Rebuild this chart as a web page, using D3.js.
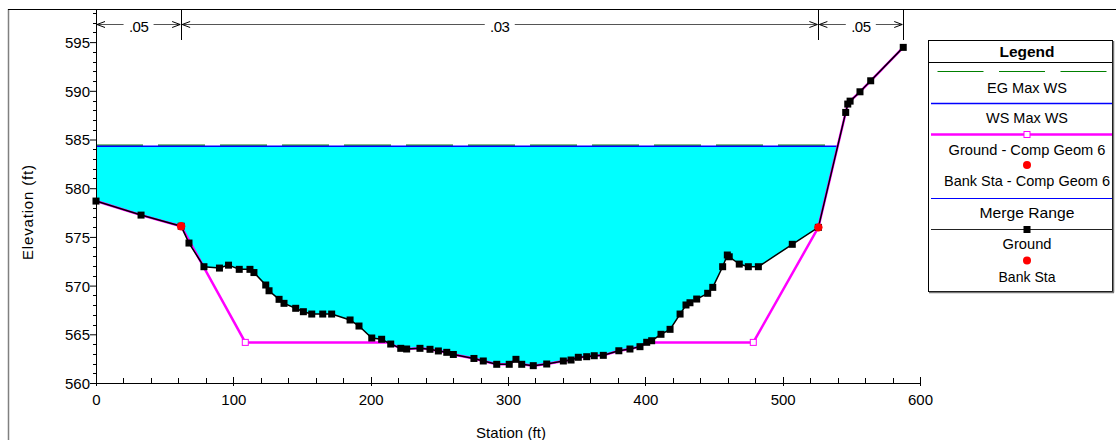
<!DOCTYPE html>
<html><head><meta charset="utf-8">
<script src="https://cdn.jsdelivr.net/npm/d3@7/dist/d3.min.js"></script>
<style>body{margin:0;background:#fff;}svg{display:block;font-family:"Liberation Sans",Arial,sans-serif;}</style>
</head><body><svg id="c" width="1116" height="440"></svg>
<script>
const groundSta = [0,32.8,62,67.7,78.6,89.9,96.5,104.3,112.1,115.0,123.6,126.0,133.3,136.9,145.4,151.0,157.1,165.1,171.6,185.0,191.5,200.8,208.0,214.6,221.9,226.2,235.9,243.2,249.3,255.4,260.2,275.2,282.0,291.8,300.9,305.8,310.0,318.4,328.2,340.3,345.9,351.2,357.3,362.8,369.4,380.7,388.8,396.1,401.0,404.6,411.4,418.0,425.3,429.6,432.5,437.4,445.4,449.1,456.3,459.7,461.1,468.4,475.0,482.3,507.0,526.0,545.9,547.4,549.1,556.3,564.1,587.8];
const groundElev = [578.68,577.24,576.1,574.37,571.94,571.8,572.1,571.67,571.67,571.34,570.06,569.47,568.59,568.18,567.67,567.32,567.08,567.08,567.08,566.47,565.85,564.62,564.49,564.0,563.56,563.49,563.56,563.46,563.29,563.15,562.93,562.52,562.26,561.92,561.92,562.43,561.92,561.78,561.95,562.26,562.36,562.64,562.70,562.80,562.84,563.31,563.49,563.73,564.18,564.34,565.0,565.51,567.08,568.01,568.24,568.62,569.21,569.82,571.94,573.14,572.96,572.21,571.94,571.94,574.24,575.98,587.78,588.64,588.94,589.90,591.03,594.46];
const compSta = [0,32.8,62,108.7,213.5,214.6,221.9,226.2,235.9,243.2,249.3,255.4,260.2,275.2,282.0,291.8,300.9,305.8,310.0,318.4,328.2,340.3,345.9,351.2,357.3,362.8,369.4,380.7,388.8,396.1,401.0,478.6,526.0,545.9,547.4,549.1,556.3,564.1,587.8];
const compElev = [578.68,577.24,576.1,564.17,564.17,564.0,563.56,563.49,563.56,563.46,563.29,563.15,562.93,562.52,562.26,561.92,561.92,562.43,561.92,561.78,561.95,562.26,562.36,562.64,562.70,562.80,562.84,563.31,563.49,563.73,564.17,564.17,575.98,587.78,588.64,588.94,589.90,591.03,594.46];
const compMarkSta = [108.7,478.6];
const compMarkElev = [564.17,564.17];
const bankSta = [62,526.0];
const bankElev = [576.1,575.98];
const wsElev = 584.32;
const egElev = 584.42;
const nBounds = [0,62,526,587.8];
const nValues = [".05",".03",".05"];
const xTicks = [0,100,200,300,400,500,600];
const yTicks = [560,565,570,575,580,585,590,595];
const legendItems = ["EG Max WS","WS Max WS","Ground - Comp Geom 6","Bank Sta - Comp Geom 6","Merge Range","Ground","Bank Sta"];

const FS = 15;
const svg = d3.select("#c");
const x = d3.scaleLinear().domain([0,600]).range([96,920]);
const y = d3.scaleLinear().domain([560,598.4]).range([383,9]);

// frame
svg.append("line").attr("x1",8.5).attr("x2",8.5).attr("y1",9).attr("y2",440).attr("stroke","#808080").attr("stroke-width",1.5);
svg.append("line").attr("x1",8).attr("x2",1116).attr("y1",9.5).attr("y2",9.5).attr("stroke","#000");

// water fill: between WS and ground
const gpts = groundSta.map((s,i)=>[s,groundElev[i]]);
let xr = 0;
for(let i=1;i<gpts.length;i++){
  const [s0,e0]=gpts[i-1],[s1,e1]=gpts[i];
  if(e0<wsElev && e1>=wsElev){ xr = s0+(wsElev-e0)/(e1-e0)*(s1-s0); break; }
}
const fillPts = [[0,wsElev]].concat(gpts.filter(p=>p[0]<xr)).concat([[xr,wsElev]]);
svg.append("path").attr("d",d3.line().x(d=>x(d[0])).y(d=>y(d[1]))(fillPts)+"Z").attr("fill","#00ffff");

// EG & WS lines
svg.append("line").attr("x1",x(0)).attr("x2",x(xr)).attr("y1",y(egElev)).attr("y2",y(egElev)).attr("stroke","#008000").attr("stroke-width",1.2).attr("stroke-dasharray","47,15");
svg.append("line").attr("x1",x(0)).attr("x2",x(xr)).attr("y1",y(wsElev)).attr("y2",y(wsElev)).attr("stroke","#0000ff").attr("stroke-width",1.5);

// comp geom magenta
const line = d3.line().x(d=>x(d[0])).y(d=>y(d[1]));
svg.append("path").attr("d",line(compSta.map((s,i)=>[s,compElev[i]]))).attr("fill","none").attr("stroke","#ff00ff").attr("stroke-width",2.5);
svg.selectAll(".cm").data(compMarkSta).join("rect").attr("x",d=>x(d)-3).attr("y",(d,i)=>y(compMarkElev[i])-3).attr("width",6).attr("height",6).attr("fill","#fff").attr("stroke","#ff00ff").attr("stroke-width",1);

// ground
svg.append("path").attr("d",line(gpts)).attr("fill","none").attr("stroke","#000").attr("stroke-width",1.5);
svg.selectAll(".gm").data(gpts).join("rect").attr("x",d=>x(d[0])-3.5).attr("y",d=>y(d[1])-3.5).attr("width",7).attr("height",7).attr("fill","#000");
svg.selectAll(".bk").data(bankSta).join("circle").attr("cx",d=>x(d)).attr("cy",(d,i)=>y(bankElev[i])).attr("r",4.2).attr("fill","#ff0000");

// axes
const yAxis = d3.axisLeft(y).tickValues(yTicks).tickSize(6).tickPadding(0).tickFormat(d3.format("d"));
const gy = svg.append("g").attr("transform","translate(96,0)").call(yAxis);
gy.select(".domain").attr("d","M0.5,9V383.5");
const yMinor = d3.range(561,599).filter(v=>v%5!==0);
gy.selectAll(".ym").data(yMinor).join("line").attr("x1",-3).attr("x2",0).attr("y1",d=>Math.round(y(d))+0.5).attr("y2",d=>Math.round(y(d))+0.5).attr("stroke","#000");
gy.selectAll("text").attr("font-size",FS).attr("fill","#000").attr("font-family","Liberation Sans, Arial").attr("dy","0.36em");

const xAxis = d3.axisBottom(x).tickValues(xTicks).tickSize(0).tickPadding(11).tickFormat(d3.format("d"));
const gx = svg.append("g").attr("transform","translate(0,383)").call(xAxis);
gx.select(".domain").attr("d","M96,0.5H920");
const xMinor = d3.range(0,601,20);
gx.selectAll(".xm").data(xMinor).join("line").attr("x1",d=>Math.round(x(d))+0.5).attr("x2",d=>Math.round(x(d))+0.5).attr("y1",d=>d%100===0?-6:-5).attr("y2",d=>d%100===0?3:0).attr("stroke","#000");
gx.selectAll("text").attr("font-size",FS).attr("fill","#000").attr("font-family","Liberation Sans, Arial");

svg.append("text").attr("transform","translate(33,212.5) rotate(-90)").attr("text-anchor","middle").attr("font-size",FS)
  .attr("textLength",95).attr("lengthAdjust","spacing").text("Elevation (ft)");
svg.append("text").attr("x",511).attr("y",438).attr("text-anchor","middle").attr("font-size",FS)
  .attr("textLength",70).attr("lengthAdjust","spacing").text("Station (ft)");

// n values
const ny = 24.5;
nBounds.forEach((b,i)=>{
  if(i>0) svg.append("line").attr("x1",Math.round(x(b))+0.5).attr("x2",Math.round(x(b))+0.5).attr("y1",9).attr("y2",40).attr("stroke","#000");
});
for(let i=0;i<nValues.length;i++){
  const a = x(nBounds[i])+1, b = x(nBounds[i+1])-1, m=(a+b)/2;
  const hw = 15;
  svg.append("line").attr("x1",a).attr("x2",m-hw).attr("y1",ny).attr("y2",ny).attr("stroke","#555");
  svg.append("line").attr("x1",m+hw).attr("x2",b).attr("y1",ny).attr("y2",ny).attr("stroke","#555");
  svg.append("path").attr("d",`M${a+8},${ny-3}L${a},${ny}L${a+8},${ny+3}`).attr("fill","none").attr("stroke","#000");
  svg.append("path").attr("d",`M${b-8},${ny-3}L${b},${ny}L${b-8},${ny+3}`).attr("fill","none").attr("stroke","#000");
  svg.append("text").attr("x",m).attr("y",31.5).attr("text-anchor","middle").attr("font-size",FS).attr("letter-spacing","-0.5").text(nValues[i]);
}

// legend
const L = {x:928, y:40, w:184, h:251};
const lg = svg.append("g");
lg.append("rect").attr("x",L.x+0.5).attr("y",L.y+0.5).attr("width",L.w).attr("height",L.h).attr("fill","#fff").attr("stroke","#000");
lg.append("line").attr("x1",L.x+1).attr("x2",L.x+L.w+1).attr("y1",62.5).attr("y2",62.5).attr("stroke","#000");
lg.append("line").attr("x1",L.x+L.w+1.5).attr("x2",L.x+L.w+1.5).attr("y1",L.y+1).attr("y2",L.y+L.h+1.5).attr("stroke","#777").attr("stroke-width",1.5);
lg.append("line").attr("x1",L.x+1).attr("x2",L.x+L.w+2).attr("y1",L.y+L.h+1.5).attr("y2",L.y+L.h+1.5).attr("stroke","#777").attr("stroke-width",1.5);
const cx = 1027;
lg.append("text").attr("x",cx).attr("y",57).attr("text-anchor","middle").attr("font-size",FS).attr("font-weight","bold").attr("textLength",55).attr("lengthAdjust","spacingAndGlyphs").text("Legend");
const lx1 = L.x+3, lx2 = L.x+L.w;
lg.append("line").attr("x1",937.5).attr("x2",lx2-4).attr("y1",71.5).attr("y2",71.5).attr("stroke","#008000").attr("stroke-dasharray","46,15.5");
const txtY = [93,123,155,186,218,249,281.5];
const txtW = [80,82,157,166,95,49,57];
txtY.forEach((ty,i)=>lg.append("text").attr("x",cx).attr("y",ty).attr("text-anchor","middle").attr("font-size",FS)
  .attr("textLength",txtW[i]).attr("lengthAdjust","spacingAndGlyphs").text(legendItems[i]));
lg.append("line").attr("x1",lx1).attr("x2",lx2).attr("y1",103.5).attr("y2",103.5).attr("stroke","#0000ff").attr("stroke-width",1.5);
lg.append("line").attr("x1",lx1).attr("x2",lx2).attr("y1",134.5).attr("y2",134.5).attr("stroke","#ff00ff").attr("stroke-width",2.5);
lg.append("rect").attr("x",cx-3).attr("y",131.5).attr("width",6).attr("height",6).attr("fill","#fff").attr("stroke","#ff00ff");
lg.append("circle").attr("cx",cx).attr("cy",165).attr("r",4).attr("fill","#ff0000");
lg.append("line").attr("x1",lx1).attr("x2",lx2).attr("y1",198.5).attr("y2",198.5).attr("stroke","#0000ff").attr("stroke-width",1.2);
lg.append("line").attr("x1",lx1).attr("x2",lx2).attr("y1",229.5).attr("y2",229.5).attr("stroke","#222").attr("stroke-width",1.2);
lg.append("rect").attr("x",cx-3.5).attr("y",226).attr("width",7).attr("height",7).attr("fill","#000");
lg.append("circle").attr("cx",cx).attr("cy",260.5).attr("r",4).attr("fill","#ff0000");
</script></body></html>
